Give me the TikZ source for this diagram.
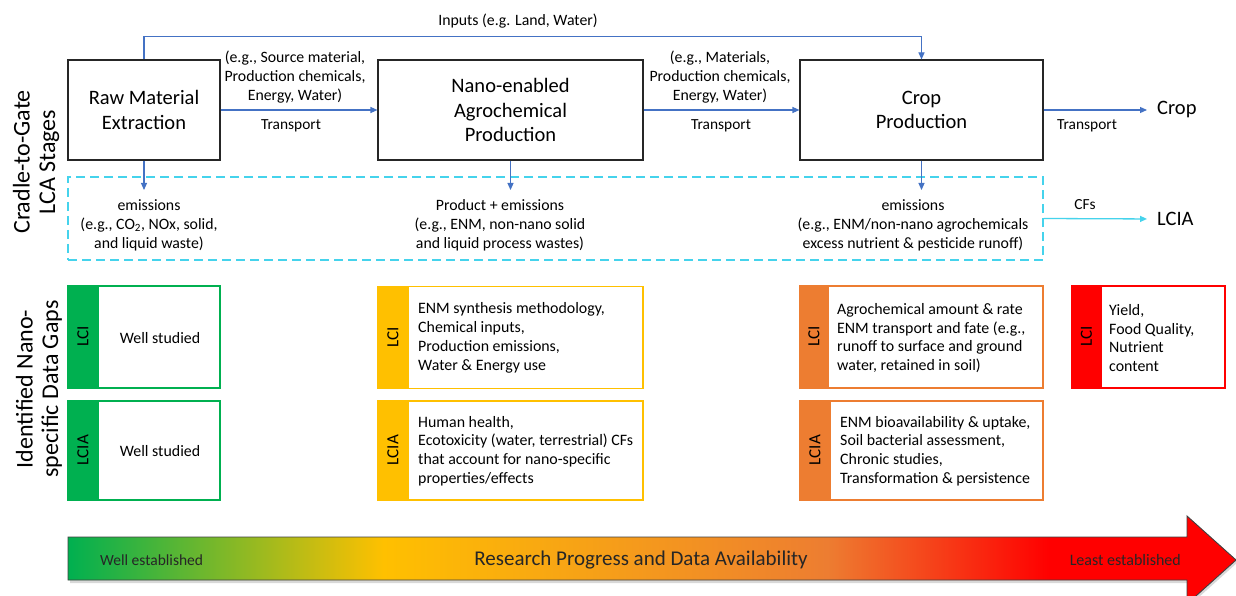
\documentclass[tikz,border=0pt]{standalone}
\usepackage{fontspec}
\setmainfont{Carlito}
\usetikzlibrary{arrows.meta,calc}

\definecolor{flowblue}{HTML}{4472C4}
\definecolor{dashcyan}{HTML}{45D3EC}
\definecolor{pgreen}{HTML}{00B050}
\definecolor{pyellow}{HTML}{FFC000}
\definecolor{porange}{HTML}{ED7D31}
\definecolor{pred}{HTML}{FF0000}

% left-to-right colour ramp of the progress arrow (middle 25bp..75bp spans the path)
\pgfdeclarehorizontalshading{progress}{100bp}{%
  color(0bp)=(pgreen); color(25bp)=(pgreen); color(38.5bp)=(pyellow);
  color(57.5bp)=(porange); color(67bp)=(pred); color(100bp)=(pred)}

\tikzset{
  stagebox/.style={draw=black!85, line width=1.1pt, fill=white, align=center,
    font=\fontsize{20.5}{24.5}\selectfont},
  flow/.style={draw=flowblue, line width=1.1pt, -{Triangle[length=7pt,width=6pt]}},
  cfflow/.style={draw=dashcyan, line width=1.3pt, -{Triangle[length=7pt,width=6pt]}},
  lbl/.style={align=center, inner sep=0pt, font=\fontsize{15.8}{19}\selectfont},
  smalllbl/.style={inner sep=0pt, font=\fontsize{15.4}{18}\selectfont},
  biglbl/.style={inner sep=0pt, font=\fontsize{20.5}{25}\selectfont},
  sidelbl/.style={rotate=90, align=center, inner sep=0pt, font=\fontsize{24}{25.5}\selectfont},
  gapbox/.style={draw=#1, line width=1.4pt, fill=white, inner sep=0pt},
  gapstrip/.style={fill=#1, draw=none, anchor=north west, inner sep=0pt},
  striplbl/.style={rotate=90, inner sep=0pt, font=\fontsize{17}{20}\selectfont},
  gaptext/.style={anchor=west, align=left, inner sep=0pt, font=\fontsize{15.9}{18.8}\selectfont},
}

\begin{document}
\begin{tikzpicture}[x=1pt,y=-1pt]
\clip (0,0) rectangle (1236,596);
\fill[white] (0,0) rectangle (1236,596);

% ---------- side titles ----------
\node[sidelbl] (stagelbl) at (36,162) {Cradle-to-Gate\\LCA Stages};
\node[sidelbl] (gaplbl) at (39,389) {Identified Nano-\\specific Data Gaps};

% ---------- LCA stages ----------
\node[stagebox, minimum width=152, minimum height=100] (raw) at (144,110) {Raw Material\\Extraction};
\node[stagebox, minimum width=265, minimum height=100] (nano) at (510.5,110) {Nano-enabled\\Agrochemical\\Production};
\node[stagebox, minimum width=243, minimum height=100] (crop) at (921.5,110) {Crop\\Production};

\node[biglbl, anchor=west] (cropout) at (1157,110) {Crop};
\node[biglbl, anchor=west] (lciaout) at (1157,219) {LCIA};

% inputs to crop production
\draw[flow] (raw.north) -- ++(0,-23) -| (crop.north);
\node[lbl] (inlbl) at (518,21) {Inputs (e.g. Land, Water)};

% transport links
\draw[flow] (raw.east) -- (nano.west);
\node[lbl] (in1) at (295,77) {(e.g., Source material,\\Production chemicals,\\Energy, Water)};
\node[smalllbl] (tr1) at (291,126) {Transport};

\draw[flow] (nano.east) -- (crop.west);
\node[lbl] (in2) at (720,77) {(e.g., Materials,\\Production chemicals,\\Energy, Water)};
\node[smalllbl] (tr2) at (721,126) {Transport};

\draw[flow, shorten >=10pt] (crop.east) -- (cropout.west);
\node[smalllbl] (tr3) at (1087,126) {Transport};

% ---------- emissions ----------
\node[draw=dashcyan, line width=1.5pt, dash pattern=on 9pt off 5pt,
      minimum width=975, minimum height=83, inner sep=0pt] (emisbox) at (555.5,218.5) {};

\node[lbl] (em1) at (149,225) {emissions\\(e.g., CO\textsubscript{2}, NOx, solid,\\and liquid waste)};
\node[lbl] (em2) at (500,225) {Product + emissions\\(e.g., ENM, non-nano solid\\and liquid process wastes)};
\node[lbl] (em3) at (913,225) {emissions\\(e.g., ENM/non-nano agrochemicals\\excess nutrient \& pesticide runoff)};

\draw[flow] (raw.south) -- (raw.south |- 0,190);
\draw[flow] (nano.south) -- (nano.south |- 0,190);
\draw[flow] (crop.south) -- (crop.south |- 0,190);

\draw[cfflow, shorten >=10pt] (emisbox.east) -- (lciaout.west);
\node[smalllbl] (cflbl) at (1085,205) {CFs};

% ---------- data gaps ----------
% green column
\node[gapbox=pgreen, minimum width=152, minimum height=102] (gci) at (144,337) {};
\node[gapstrip=pgreen, minimum width=31, minimum height=102] (gcis) at (gci.north west) {};
\node[striplbl] (gcit) at (gcis.center) {LCI};
\node[gaptext, anchor=center] (gcix) at (160,338) {Well studied};

\node[gapbox=pgreen, minimum width=152, minimum height=99] (gia) at (144,450.5) {};
\node[gapstrip=pgreen, minimum width=31, minimum height=99] (gias) at (gia.north west) {};
\node[striplbl] (giat) at (gias.center) {LCIA};
\node[gaptext, anchor=center] (giax) at (160,451) {Well studied};

% yellow column
\node[gapbox=pyellow, minimum width=265, minimum height=102] (yci) at (510.5,337.5) {};
\node[gapstrip=pyellow, minimum width=31, minimum height=102] (ycis) at (yci.north west) {};
\node[striplbl] (ycit) at (ycis.center) {LCI};
\node[gaptext] (ycix) at (418,338) {ENM synthesis methodology,\\Chemical inputs,\\Production emissions,\\Water \& Energy use};

\node[gapbox=pyellow, minimum width=265, minimum height=99] (yia) at (510.5,450.5) {};
\node[gapstrip=pyellow, minimum width=31, minimum height=99] (yias) at (yia.north west) {};
\node[striplbl] (yiat) at (yias.center) {LCIA};
\node[gaptext] (yiax) at (418,451) {Human health,\\Ecotoxicity (water, terrestrial) CFs\\that account for nano-specific\\properties/effects};

% orange column
\node[gapbox=porange, minimum width=243, minimum height=102] (oci) at (921.5,337) {};
\node[gapstrip=porange, minimum width=29, minimum height=102] (ocis) at (oci.north west) {};
\node[striplbl] (ocit) at (ocis.center) {LCI};
\node[gaptext] (ocix) at (837,338) {Agrochemical amount \& rate\\ENM transport and fate (e.g.,\\runoff to surface and ground\\water, retained in soil)};

\node[gapbox=porange, minimum width=243, minimum height=99] (oia) at (921.5,450.5) {};
\node[gapstrip=porange, minimum width=31, minimum height=99] (oias) at (oia.north west) {};
\node[striplbl] (oiat) at (oias.center) {LCIA};
\node[gaptext] (oiax) at (840,451) {ENM bioavailability \& uptake,\\Soil bacterial assessment,\\Chronic studies,\\Transformation \& persistence};

% red column
\node[gapbox=pred, minimum width=153, minimum height=102] (rci) at (1148.5,337) {};
\node[gapstrip=pred, minimum width=30, minimum height=102] (rcis) at (rci.north west) {};
\node[striplbl] (rcit) at (rcis.center) {LCI};
\node[gaptext] (rcix) at (1109,338) {Yield,\\Food Quality,\\Nutrient\\content};

% ---------- progress arrow ----------
\fill[black!25, opacity=0.6] (70,540) -- (1189,540) -- (1189,519) -- (1238,562)
  -- (1189,606) -- (1189,583) -- (70,583) -- cycle;
\draw[shading=progress, draw=black!75, line width=0.9pt]
  (68,537) -- (1187,537) -- (1187,516) -- (1236,560) -- (1187,604) -- (1187,580) -- (68,580) -- cycle;
\node[font=\fontsize{15.5}{18}\selectfont, text=black!85, anchor=west, inner sep=0pt] (wellest) at (100,560) {Well established};
\node[font=\fontsize{21}{24}\selectfont, text=black!85, inner sep=0pt] (progress) at (641,560) {Research Progress and Data Availability};
\node[font=\fontsize{16}{18}\selectfont, text=black!85, anchor=east, inner sep=0pt] (leastest) at (1181,560) {Least established};
\end{tikzpicture}
\end{document}
